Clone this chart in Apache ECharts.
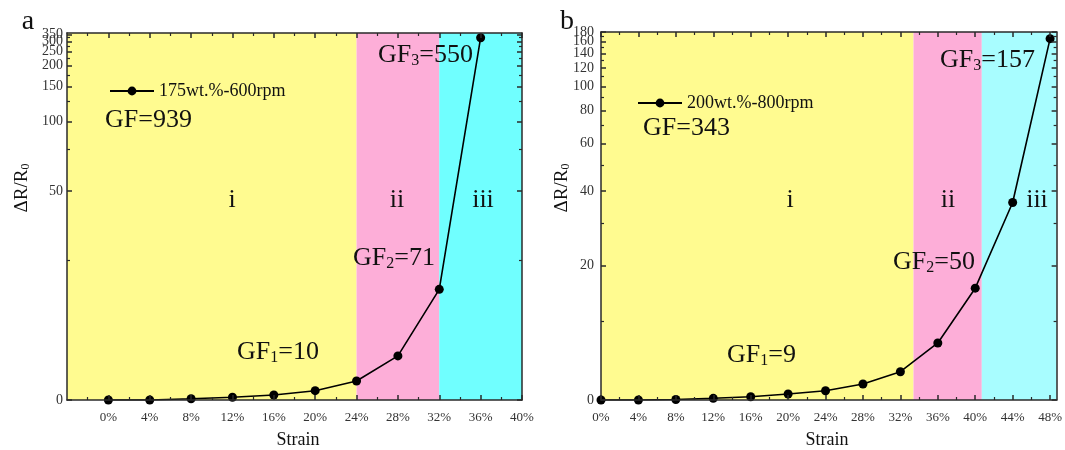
<!DOCTYPE html>
<html>
<head>
<meta charset="utf-8">
<script src="https://cdn.jsdelivr.net/npm/echarts@6/dist/echarts.min.js"></script>
<style>html,body{margin:0;padding:0;background:#fff}#c{width:1065px;height:450px}</style>
</head>
<body>
<div id="c"></div>
<script>
// ---------- data ----------
const strainA = [0, 4, 8, 12, 16, 20, 24, 28, 32, 36];
const valuesA = [0, 0, 0.15, 0.33, 0.6, 1.14, 2.38, 5.9, 18, 325];
const strainB = [0, 4, 8, 12, 16, 20, 24, 28, 32, 36, 40, 44, 48];
const valuesB = [0, 0, 0.05, 0.18, 0.35, 0.65, 1.0, 1.76, 3.2, 6.9, 15.6, 36.2, 166];
const nameA = '175wt.%-600rpm';
const nameB = '200wt.%-800rpm';
const yTicksA = [0, 50, 100, 150, 200, 250, 300, 350];
const yMinorA = [25, 75, 125, 175, 225, 275, 325];
const yTicksB = [0, 20, 40, 60, 80, 100, 120, 140, 160, 180];
const yMinorB = [10, 30, 50, 70, 90, 110, 130, 150, 170];
const xTicksA = [0, 4, 8, 12, 16, 20, 24, 28, 32, 36, 40];
const xMinorA = [-2, 2, 6, 10, 14, 18, 22, 26, 30, 34, 38];
const xTicksB = [0, 4, 8, 12, 16, 20, 24, 28, 32, 36, 40, 44, 48];
const xMinorB = [2, 6, 10, 14, 18, 22, 26, 30, 34, 38, 42, 46];
const regionsA = [[-4, 24], [24, 32], [32, 40]];
const regionsB = [[0, 33.4], [33.4, 40.7], [40.7, 48.7]];

// ---------- scale (hyperbolic, v/(v+50)) ----------
const K = 50;
const tf = v => v / (v + K);
const inv = t => K * t / (1 - t);

const FONT = '"Liberation Serif", "DejaVu Serif", serif';
const AX = '#2a2a2a';

function xAxes(grid, min, max, major, minor) {
  const base = {gridIndex: grid, type: 'value', min: min, max: max, splitLine: {show: false}, z: 10};
  return [
    Object.assign({}, base, {position: 'bottom',
      axisLine: {show: true, onZero: false, lineStyle: {color: AX, width: 1.5}},
      axisTick: {show: true, inside: true, length: 5, lineStyle: {color: AX, width: 1.5}, customValues: major},
      axisLabel: {show: true, customValues: major, formatter: v => v + '%', margin: 11,
        showMinLabel: true, showMaxLabel: true, hideOverlap: false,
        fontFamily: FONT, fontSize: 13, color: '#333'}}),
    Object.assign({}, base, {position: 'bottom', axisLine: {show: false, onZero: false},
      axisTick: {show: true, inside: true, length: 3, lineStyle: {color: AX, width: 1.2}, customValues: minor},
      axisLabel: {show: false}}),
    Object.assign({}, base, {position: 'top',
      axisLine: {show: true, onZero: false, lineStyle: {color: AX, width: 1.5}},
      axisTick: {show: true, inside: true, length: 5, lineStyle: {color: AX, width: 1.5}, customValues: major},
      axisLabel: {show: false}}),
    Object.assign({}, base, {position: 'top', axisLine: {show: false, onZero: false},
      axisTick: {show: true, inside: true, length: 3, lineStyle: {color: AX, width: 1.2}, customValues: minor},
      axisLabel: {show: false}})
  ];
}
function yAxes(grid, maxT, major, minor, margin) {
  const base = {gridIndex: grid, type: 'value', min: 0, max: maxT, splitLine: {show: false}, z: 10};
  const majT = major.map(tf), minT = minor.map(tf);
  const evenT = majT.filter((v, i) => i % 2 === 0);
  const oddT = majT.filter((v, i) => i % 2 === 1);
  const lab = vals => ({show: true, customValues: vals, formatter: v => String(Math.round(inv(v))), margin: margin,
    showMinLabel: true, showMaxLabel: true, hideOverlap: false,
    fontFamily: FONT, fontSize: 14, color: '#333'});
  return [
    Object.assign({}, base, {position: 'left',
      axisLine: {show: true, onZero: false, lineStyle: {color: AX, width: 1.5}},
      axisTick: {show: true, inside: true, length: 5, lineStyle: {color: AX, width: 1.5}, customValues: majT},
      axisLabel: lab(evenT)}),
    Object.assign({}, base, {position: 'left', axisLine: {show: false, onZero: false},
      axisTick: {show: true, inside: true, length: 3, lineStyle: {color: AX, width: 1.2}, customValues: minT},
      axisLabel: lab(oddT)}),
    Object.assign({}, base, {position: 'right',
      axisLine: {show: true, onZero: false, lineStyle: {color: AX, width: 1.5}},
      axisTick: {show: true, inside: true, length: 5, lineStyle: {color: AX, width: 1.5}, customValues: majT},
      axisLabel: {show: false}}),
    Object.assign({}, base, {position: 'right', axisLine: {show: false, onZero: false},
      axisTick: {show: true, inside: true, length: 3, lineStyle: {color: AX, width: 1.2}, customValues: minT},
      axisLabel: {show: false}})
  ];
}
function regionSeries(xi, yi, regs, colors) {
  return {
    type: 'line', xAxisIndex: xi, yAxisIndex: yi, data: [], z: 1, silent: true,
    markArea: {silent: true, data: regs.map((r, i) => [
      {xAxis: r[0], itemStyle: {color: colors[i], opacity: 1}}, {xAxis: r[1]}])}
  };
}
function lineSeries(name, xi, yi, xs, vs) {
  return {
    name: name, type: 'line', xAxisIndex: xi, yAxisIndex: yi, z: 5,
    data: xs.map((x, i) => [x, tf(vs[i])]),
    symbol: 'circle', symbolSize: 9,
    itemStyle: {color: '#000'}, lineStyle: {color: '#000', width: 1.6}
  };
}
function txt(x, y, text, rich, align, rot) {
  return {type: 'text', x: x, y: y, rotation: rot || 0, z: 20,
    style: {text: text, rich: rich, fill: '#111', font: '26px ' + FONT,
      align: align || 'left', verticalAlign: 'middle',
      textAlign: align || 'left', textVerticalAlign: 'middle'}};
}
const gfRich = {
  n: {fontSize: 26, fontFamily: FONT, color: '#111'},
  s: {fontSize: 16, fontFamily: FONT, color: '#111', verticalAlign: 'bottom', padding: [12, 0, 0, 0]}
};
const yRich = {
  n: {fontSize: 19, fontFamily: FONT, color: '#111'},
  s: {fontSize: 12, fontFamily: FONT, color: '#111', verticalAlign: 'bottom', padding: [8, 0, 0, 0]}
};

const chart = echarts.init(document.getElementById('c'), null, {renderer: 'canvas'});
chart.setOption({
  backgroundColor: '#fff',
  animation: false,
  grid: [
    {left: 67, right: 1065 - 522, top: 33, bottom: 50},
    {left: 601, right: 1065 - 1057, top: 32, bottom: 50}
  ],
  xAxis: [].concat(xAxes(0, -4, 40, xTicksA, xMinorA), xAxes(1, 0, 48.7, xTicksB, xMinorB)),
  yAxis: [].concat(yAxes(0, 0.878, yTicksA, yMinorA, 4), yAxes(1, tf(180), yTicksB, yMinorB, 7)),
  legend: [
    {left: 104, top: 77, data: [nameA], itemWidth: 44, itemHeight: 11,
      textStyle: {fontFamily: FONT, fontSize: 18, color: '#111'}},
    {left: 632, top: 89, data: [nameB], itemWidth: 44, itemHeight: 11,
      textStyle: {fontFamily: FONT, fontSize: 18, color: '#111'}}
  ],
  series: [
    regionSeries(0, 0, regionsA, ['#fffb90', '#fdaed8', '#70ffff']),
    lineSeries(nameA, 0, 0, strainA, valuesA),
    regionSeries(4, 4, regionsB, ['#fffb90', '#fdaed8', '#a8fdff']),
    lineSeries(nameB, 4, 4, strainB, valuesB)
  ],
  graphic: [
    txt(28, 22, '{p|a}', {p: {fontSize: 28, fontFamily: FONT, color: '#111'}}, 'center'),
    txt(567, 22, '{p|b}', {p: {fontSize: 28, fontFamily: FONT, color: '#111'}}, 'center'),
    txt(105, 120, '{n|GF=939}', gfRich),
    txt(643, 128, '{n|GF=343}', gfRich),
    txt(232, 200, '{n|i}', gfRich, 'center'),
    txt(397, 200, '{n|ii}', gfRich, 'center'),
    txt(483, 200, '{n|iii}', gfRich, 'center'),
    txt(790, 200, '{n|i}', gfRich, 'center'),
    txt(948, 200, '{n|ii}', gfRich, 'center'),
    txt(1037, 200, '{n|iii}', gfRich, 'center'),
    txt(378, 55, '{n|GF}{s|3}{n|=550}', gfRich),
    txt(353, 258, '{n|GF}{s|2}{n|=71}', gfRich),
    txt(237, 352, '{n|GF}{s|1}{n|=10}', gfRich),
    txt(940, 60, '{n|GF}{s|3}{n|=157}', gfRich),
    txt(893, 262, '{n|GF}{s|2}{n|=50}', gfRich),
    txt(727, 355, '{n|GF}{s|1}{n|=9}', gfRich),
    txt(298, 440, '{p|Strain}', {p: {fontSize: 18, fontFamily: FONT, color: '#111'}}, 'center'),
    txt(827, 440, '{p|Strain}', {p: {fontSize: 18, fontFamily: FONT, color: '#111'}}, 'center'),
    txt(22, 188, '{n|ΔR/R}{s|0}', yRich, 'center', Math.PI / 2),
    txt(562, 188, '{n|ΔR/R}{s|0}', yRich, 'center', Math.PI / 2)
  ]
});
</script>
</body>
</html>
